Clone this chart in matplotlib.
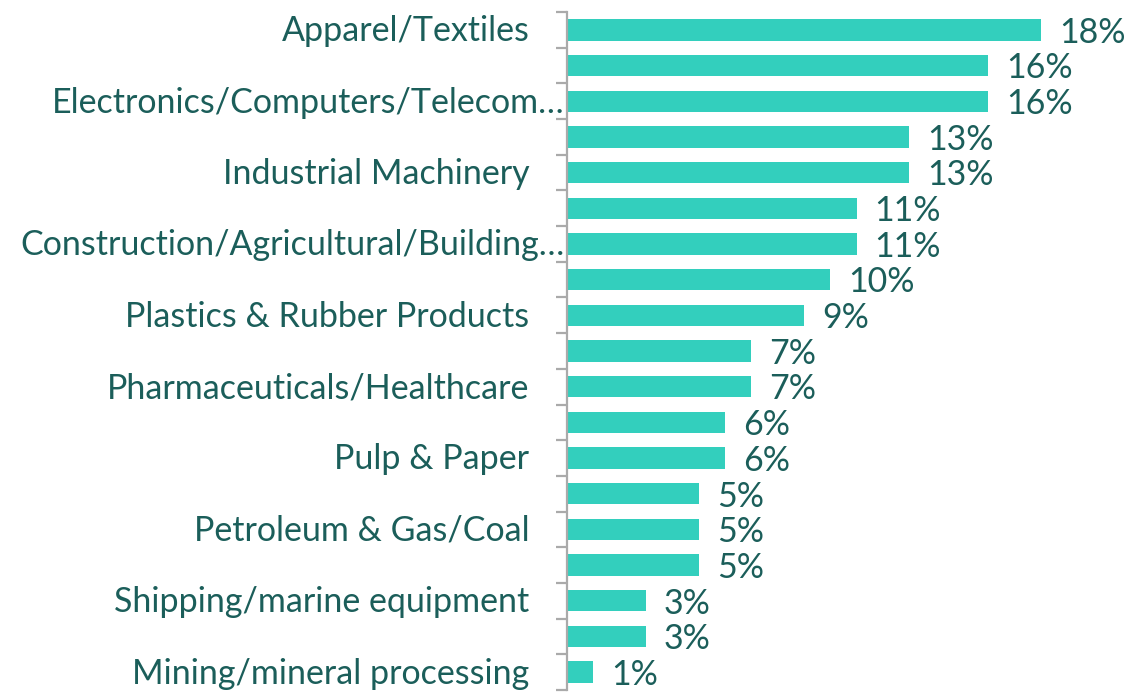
import matplotlib
matplotlib.use("Agg")
import matplotlib.pyplot as plt
import numpy as np

categories = ["Apparel/Textiles", "", "Electronics/Computers/Telecom\u2026", "",
              "Industrial Machinery", "", "Construction/Agricultural/Building\u2026", "",
              "Plastics & Rubber Products", "", "Pharmaceuticals/Healthcare", "",
              "Pulp & Paper", "", "Petroleum & Gas/Coal", "", "Shipping/marine equipment", "",
              "Mining/mineral processing"]
values = [18, 16, 16, 13, 13, 11, 11, 10, 9, 7, 7, 6, 6, 5, 5, 5, 3, 3, 1]

BAR = "#33cfbd"
TXT = "#1b5e5a"
AX = "#aaaaaa"
FONT = ["Lato", "DejaVu Sans"]
FS = 24.5

W, H = 1128, 692
fig = plt.figure(figsize=(W / 100, H / 100), dpi=100)
x0 = 567 / W
ax = fig.add_axes([x0, 2 / H, (26.33 * 20) / W, 678 / H])

y = np.arange(len(values))
ax.barh(y, values, height=0.6, color=BAR)
ax.set_xlim(0, 20)
ax.set_ylim(len(values) - 0.5, -0.5)

for s in ["top", "right", "bottom"]:
    ax.spines[s].set_visible(False)
ax.spines["left"].set_color(AX)
ax.spines["left"].set_linewidth(1.6)
ax.set_xticks([])
ax.set_yticks(np.arange(-0.5, len(values), 1.0))
ax.set_yticklabels([])
ax.tick_params(axis="y", length=8, width=1.6, color=AX)

for i, (c, v) in enumerate(zip(categories, values)):
    if c:
        pad = -2 if c.endswith("\u2026") else -27
        ax.annotate(c, xy=(0, i), xycoords=("axes fraction", "data"),
                    xytext=(pad, -1), textcoords="offset points",
                    ha="right", va="center", fontsize=FS, color=TXT,
                    family=FONT, fontweight="normal")
    ax.annotate(f"{v}%", xy=(v, i), xytext=(13, -2), textcoords="offset points",
                ha="left", va="center", fontsize=FS, color=TXT,
                family=FONT, fontweight="normal")

fig.savefig("out.png", dpi=100)
